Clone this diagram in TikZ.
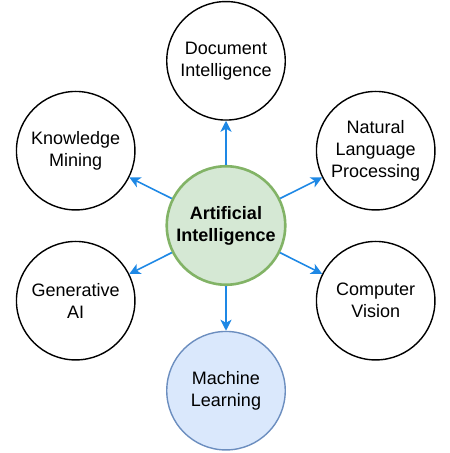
\documentclass[tikz,border=0pt]{standalone}
\usepackage{fontspec}
\setmainfont{Liberation Sans}
\usetikzlibrary{arrows.meta}
\definecolor{aigreen}{HTML}{D5E8D4}
\definecolor{aigreenb}{HTML}{82B366}
\definecolor{mlblue}{HTML}{DAE8FC}
\definecolor{mlblueb}{HTML}{6C8EBF}
\definecolor{arrowblue}{HTML}{1E88E5}
\begin{document}
\begin{tikzpicture}[x=1pt,y=1pt,
  topic/.style={circle,draw=black,line width=1.4pt,fill=white,minimum size=118.5pt,inner sep=0pt,align=center,font={\fontsize{18}{22}\selectfont}},
  core/.style={topic,draw=aigreenb,fill=aigreen,line width=2.6pt,font={\fontsize{18}{22}\selectfont\bfseries}},
  mlnode/.style={topic,draw=mlblueb,fill=mlblue,line width=1.4pt},
  link/.style={draw=arrowblue,line width=1.6pt,-{Stealth[length=11pt,width=11pt,inset=3pt]}}
]
\useasboundingbox (0,0) rectangle (450,453);
\node[core] (ai) at (226,227.5) {Artificial\\Intelligence};
\node[topic] (doc) at (226,392.2) {Document\\Intelligence};
\node[topic] (km) at (75.7,302.3) {Knowledge\\Mining};
\node[topic] (nlp) at (375.7,302.3) {Natural\\Language\\Processing};
\node[topic] (ga) at (75.7,152.3) {Generative\\AI};
\node[topic] (cv) at (375.7,152.3) {Computer\\Vision};
\node[mlnode] (ml) at (226,62.3) {Machine\\Learning};
\foreach \t in {doc,km,nlp,ga,cv,ml} \draw[link] (ai) -- (\t);
\end{tikzpicture}
\end{document}
